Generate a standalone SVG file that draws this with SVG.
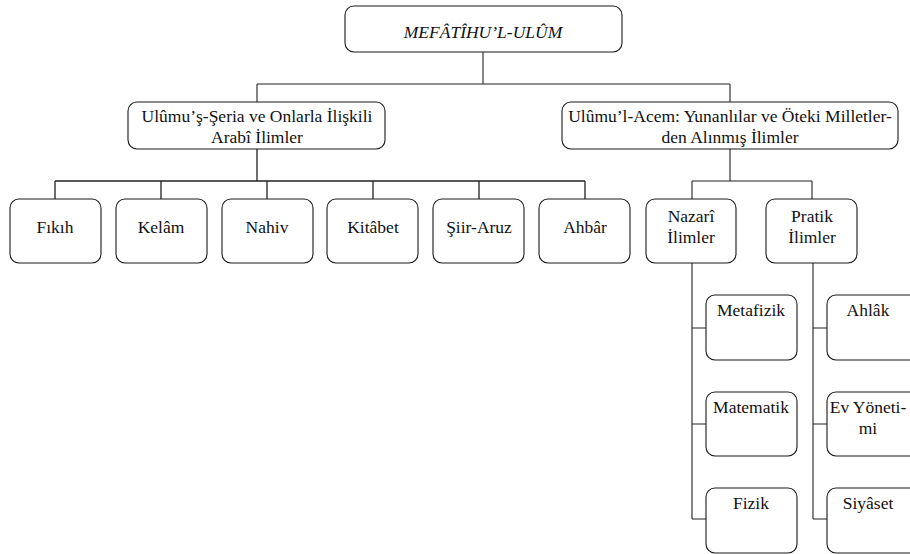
<svg xmlns="http://www.w3.org/2000/svg" width="910" height="554" viewBox="0 0 910 554">
<style>
.box{fill:#fff;stroke:#1a1a1a;stroke-width:1.1}
.t{font-family:"Liberation Serif","DejaVu Serif",serif;font-size:17.5px;fill:#111;text-anchor:middle}
.c{fill:none;stroke:#222;stroke-width:1.1}
</style>
<rect width="910" height="554" fill="#fff"/>
<g id="connectors">
<path class="c" d="M483,52V84M257,84H730M257,84V102M730,84V102"/>
<path class="c" d="M257,149V181M55,181H585M55,181V199M161,181V199M267,181V199M373,181V199M479,181V199M585,181V199" style="stroke-width:1.3"/>
<path class="c" d="M730,149V181M692,181H812M692,181V199M812,181V199"/>
<path class="c" d="M692,263V519M692,328H706M692,424H706M692,519H706"/>
<path class="c" d="M813,263V519M813,328H827M813,424H827M813,519H827"/>
</g>
<g id="root"><rect class="box" x="345" y="6" width="277" height="46" rx="9"/><text class="t" x="483" y="38" font-style="italic" font-size="16.3">MEFÂTÎHU’L-ULÛM</text></g>
<g id="seria"><rect class="box" x="128" y="102" width="257" height="47" rx="9"/><text class="t" x="257" y="122">Ulûmu’ş-Şeria ve Onlarla İlişkili</text><text class="t" x="257" y="143">Arabî İlimler</text></g>
<g id="acem"><rect class="box" x="562" y="102" width="336" height="47" rx="9"/><text class="t" x="730" y="122">Ulûmu’l-Acem: Yunanlılar ve Öteki Milletler-</text><text class="t" x="730" y="143">den Alınmış İlimler</text></g>
<g id="fikih"><rect class="box" x="10" y="199" width="91" height="64" rx="9"/><text class="t" x="55" y="233">Fıkıh</text></g>
<g id="kelam"><rect class="box" x="116" y="199" width="91" height="64" rx="9"/><text class="t" x="161" y="233">Kelâm</text></g>
<g id="nahiv"><rect class="box" x="222" y="199" width="91" height="64" rx="9"/><text class="t" x="267" y="233">Nahiv</text></g>
<g id="kitabet"><rect class="box" x="327" y="199" width="91" height="64" rx="9"/><text class="t" x="373" y="233">Kitâbet</text></g>
<g id="siir"><rect class="box" x="433" y="199" width="91" height="64" rx="9"/><text class="t" x="479" y="233">Şiir-Aruz</text></g>
<g id="ahbar"><rect class="box" x="539" y="199" width="91" height="64" rx="9"/><text class="t" x="585" y="233">Ahbâr</text></g>
<g id="nazari"><rect class="box" x="646" y="199" width="90" height="64" rx="9"/><text class="t" x="691" y="222">Nazarî</text><text class="t" x="691" y="243">İlimler</text></g>
<g id="pratik"><rect class="box" x="766" y="199" width="91" height="64" rx="9"/><text class="t" x="812" y="222">Pratik</text><text class="t" x="812" y="243">İlimler</text></g>
<g id="metafizik"><rect class="box" x="706" y="295" width="91" height="65" rx="9"/><text class="t" x="751" y="316">Metafizik</text></g>
<g id="matematik"><rect class="box" x="706" y="392" width="91" height="64" rx="9"/><text class="t" x="751" y="413">Matematik</text></g>
<g id="fizik"><rect class="box" x="706" y="488" width="91" height="65" rx="9"/><text class="t" x="751" y="509">Fizik</text></g>
<g id="ahlak"><rect class="box" x="827" y="295" width="91" height="65" rx="9"/><text class="t" x="868" y="316">Ahlâk</text></g>
<g id="ev"><rect class="box" x="827" y="392" width="91" height="64" rx="9"/><text class="t" x="868" y="413">Ev Yöneti-</text><text class="t" x="868" y="434">mi</text></g>
<g id="siyaset"><rect class="box" x="827" y="488" width="91" height="65" rx="9"/><text class="t" x="868" y="509">Siyâset</text></g>
</svg>
